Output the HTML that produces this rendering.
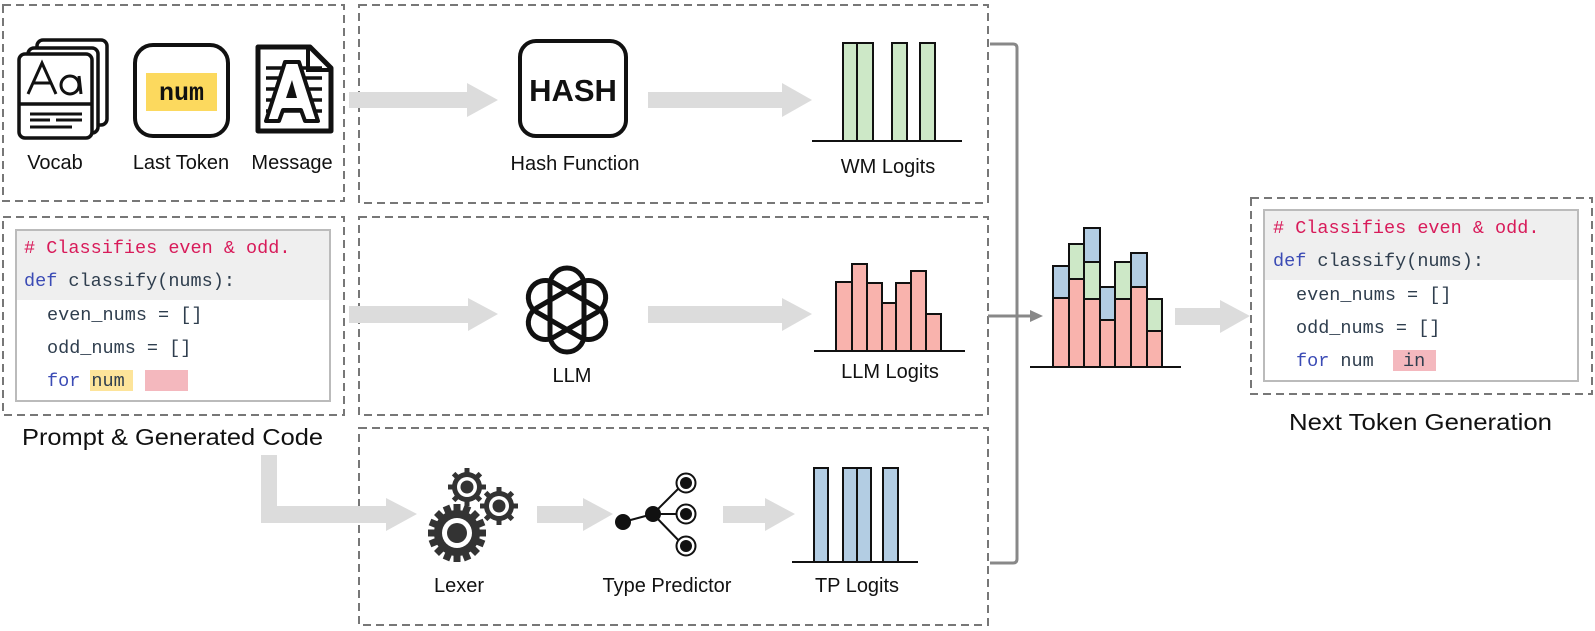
<!DOCTYPE html>
<html><head><meta charset="utf-8"><style>
html,body{margin:0;padding:0;background:#fff;}
svg{display:block;}
text{font-family:"Liberation Sans",sans-serif;fill:#111;}
.m{font-family:"Liberation Mono",monospace;font-size:18.5px;}
</style></head><body>
<svg width="1595" height="631" viewBox="0 0 1595 631" xmlns="http://www.w3.org/2000/svg">
<g fill="none" stroke="#777" stroke-width="2" stroke-dasharray="8,5">
  <rect x="3" y="5" width="341" height="196"/>
  <rect x="359" y="5" width="629" height="198"/>
  <rect x="3" y="217" width="341" height="198"/>
  <rect x="359" y="217" width="629" height="198"/>
  <rect x="359" y="428" width="629" height="197"/>
  <rect x="1251" y="198" width="341" height="196"/>
</g>

<g fill="#dcdcdc">
  <path d="M349 92 H467 V83 L498 100 L467 117 V108 H349 Z"/>
  <path d="M648 92 H782 V83 L812 100 L782 117 V108 H648 Z"/>
  <path d="M349 306 H468 V298 L498 314 L468 331 V323 H349 Z"/>
  <path d="M648 306 H782 V298 L812 314 L782 331 V323 H648 Z"/>
  <path d="M261 455 H277 V506 H386 V498 L417 514 L386 531 V523 H261 Z"/>
  <path d="M537 506 H583 V498 L613 514 L583 531 V523 H537 Z"/>
  <path d="M723 506 H765 V498 L795 514 L765 531 V523 H723 Z"/>
  <path d="M1175 308 H1220 V300 L1250 316 L1220 333 V325 H1175 Z"/>
</g>

<path d="M990 44 H1013 Q1017 44 1017 48 V559 Q1017 563 1013 563 H990" fill="none" stroke="#888" stroke-width="3"/>
<line x1="988" y1="316" x2="1032" y2="316" stroke="#888" stroke-width="3"/>
<path d="M1030 310 L1043 316 L1030 322 Z" fill="#888"/>

<g fill="#fff" stroke="#111" stroke-width="3.5">
  <rect x="37" y="40" width="70" height="85" rx="6"/>
  <rect x="28" y="48" width="70" height="85" rx="6"/>
  <rect x="19" y="54" width="73" height="84" rx="6"/>
  <line x1="19" y1="104" x2="92" y2="104"/>
  <path d="M28 94 L42 63 L56 94 M33 83 H51" fill="none" stroke-width="3"/>
  <ellipse cx="70" cy="85" rx="9" ry="9" fill="none" stroke-width="3"/>
  <line x1="79" y1="76" x2="81" y2="94" stroke-width="3"/>
  <line x1="30" y1="114" x2="82" y2="114" stroke-width="3"/>
  <line x1="30" y1="120" x2="50" y2="120" stroke-width="3"/>
  <line x1="56" y1="120" x2="82" y2="120" stroke-width="3"/>
  <line x1="30" y1="127" x2="72" y2="127" stroke-width="3"/>
</g>
<rect x="135" y="45" width="93" height="91" rx="18" fill="#fff" stroke="#111" stroke-width="4"/>
<rect x="146" y="73" width="71" height="38" fill="#fcd95e"/>
<text x="181.5" y="100" text-anchor="middle" style="font-family:'Liberation Mono',monospace;font-size:25px;font-weight:bold;">num</text>
<path d="M258 47 H310 L331 68 V131 H258 Z" fill="#fff" stroke="#111" stroke-width="5" stroke-linejoin="round"/>
<path d="M308 47 V70 H331" fill="none" stroke="#111" stroke-width="4"/>
<g stroke="#111" stroke-width="3.5">
  <line x1="266" y1="68" x2="322" y2="68"/><line x1="266" y1="78" x2="322" y2="78"/>
  <line x1="266" y1="89" x2="322" y2="89"/><line x1="266" y1="100" x2="322" y2="100"/>
  <line x1="266" y1="111" x2="322" y2="111"/>
</g>
<path d="M285 62 H299 L318 121 H305 L301 110 H283 L279 121 H266 Z" fill="#fff" stroke="#111" stroke-width="4" stroke-linejoin="round"/>
<path d="M292 80 L297 98 H286 Z" fill="#111"/>
<text x="55" y="169" text-anchor="middle" font-size="20">Vocab</text>
<text x="181" y="169" text-anchor="middle" font-size="20">Last Token</text>
<text x="292" y="169" text-anchor="middle" font-size="20">Message</text>

<rect x="520" y="41" width="106" height="95" rx="16" fill="#fff" stroke="#111" stroke-width="4"/>
<text x="573" y="101" text-anchor="middle" font-size="31" font-weight="bold">HASH</text>
<text x="575" y="170" text-anchor="middle" font-size="20">Hash Function</text>

<g fill="#cde8c7" stroke="#111" stroke-width="2">
  <rect x="843" y="43" width="14" height="98"/><rect x="857" y="43" width="16" height="98"/>
  <rect x="892" y="43" width="15" height="98"/><rect x="920" y="43" width="15" height="98"/>
</g>
<line x1="812" y1="141" x2="962" y2="141" stroke="#111" stroke-width="2"/>
<text x="888" y="173" text-anchor="middle" font-size="20">WM Logits</text>

<g transform="translate(567,310)" fill="none" stroke="#111" stroke-width="5">
  <rect x="-17" y="-42" width="34" height="84" rx="17"/>
  <rect x="-17" y="-42" width="34" height="84" rx="17" transform="rotate(60)"/>
  <rect x="-17" y="-42" width="34" height="84" rx="17" transform="rotate(120)"/>
</g>
<text x="572" y="382" text-anchor="middle" font-size="20">LLM</text>

<g fill="#f9b3ad" stroke="#111" stroke-width="2">
  <rect x="836" y="282" width="16" height="69"/><rect x="852" y="264" width="15" height="87"/>
  <rect x="867" y="283" width="15" height="68"/><rect x="882" y="303" width="14" height="48"/>
  <rect x="896" y="283" width="15" height="68"/><rect x="911" y="271" width="15" height="80"/>
  <rect x="926" y="314" width="15" height="37"/>
</g>
<line x1="814" y1="351" x2="965" y2="351" stroke="#111" stroke-width="2"/>
<text x="890" y="378" text-anchor="middle" font-size="20">LLM Logits</text>

<g stroke="#111" stroke-width="2">
  <rect x="1053" y="266" width="16" height="32" fill="#b3cde3"/><rect x="1053" y="298" width="16" height="69" fill="#f9b3ad"/>
  <rect x="1069" y="244" width="15" height="35" fill="#cde8c7"/><rect x="1069" y="279" width="15" height="88" fill="#f9b3ad"/>
  <rect x="1084" y="228" width="16" height="34" fill="#b3cde3"/><rect x="1084" y="262" width="16" height="37" fill="#cde8c7"/><rect x="1084" y="299" width="16" height="68" fill="#f9b3ad"/>
  <rect x="1100" y="287" width="15" height="33" fill="#b3cde3"/><rect x="1100" y="320" width="15" height="47" fill="#f9b3ad"/>
  <rect x="1115" y="262" width="16" height="37" fill="#cde8c7"/><rect x="1115" y="299" width="16" height="68" fill="#f9b3ad"/>
  <rect x="1131" y="253" width="16" height="34" fill="#b3cde3"/><rect x="1131" y="287" width="16" height="80" fill="#f9b3ad"/>
  <rect x="1147" y="299" width="15" height="32" fill="#cde8c7"/><rect x="1147" y="331" width="15" height="36" fill="#f9b3ad"/>
</g>
<line x1="1030" y1="367" x2="1181" y2="367" stroke="#111" stroke-width="2"/>

<g fill="#333">
  <g transform="translate(457,533)">
    <circle r="23"/>
    <g stroke="#333" stroke-width="7">
      <line x1="0" y1="-29" x2="0" y2="29"/><line x1="-29" y1="0" x2="29" y2="0"/>
      <line x1="-20.5" y1="-20.5" x2="20.5" y2="20.5"/><line x1="-20.5" y1="20.5" x2="20.5" y2="-20.5"/>
      <line x1="-11" y1="-27" x2="11" y2="27"/><line x1="-27" y1="-11" x2="27" y2="11"/>
      <line x1="11" y1="-27" x2="-11" y2="27"/><line x1="-27" y1="11" x2="27" y2="-11"/>
    </g>
    <circle r="15" fill="#fff"/><circle r="10"/>
  </g>
  <g transform="translate(467,487)">
    <circle r="15"/>
    <g stroke="#333" stroke-width="5">
      <line x1="0" y1="-19" x2="0" y2="19"/><line x1="-19" y1="0" x2="19" y2="0"/>
      <line x1="-13.4" y1="-13.4" x2="13.4" y2="13.4"/><line x1="-13.4" y1="13.4" x2="13.4" y2="-13.4"/>
    </g>
    <circle r="10" fill="#fff"/><circle r="6.5"/>
  </g>
  <g transform="translate(499,506)">
    <circle r="15"/>
    <g stroke="#333" stroke-width="5">
      <line x1="0" y1="-19" x2="0" y2="19"/><line x1="-19" y1="0" x2="19" y2="0"/>
      <line x1="-13.4" y1="-13.4" x2="13.4" y2="13.4"/><line x1="-13.4" y1="13.4" x2="13.4" y2="-13.4"/>
    </g>
    <circle r="10" fill="#fff"/><circle r="6.5"/>
  </g>
</g>
<text x="459" y="592" text-anchor="middle" font-size="20">Lexer</text>

<g stroke="#111" stroke-width="2" fill="#111">
  <line x1="623" y1="522" x2="653" y2="514"/>
  <line x1="653" y1="514" x2="684" y2="483"/><line x1="653" y1="514" x2="684" y2="514"/><line x1="653" y1="514" x2="684" y2="546"/>
  <circle cx="623" cy="522" r="8" stroke="none"/><circle cx="653" cy="514" r="8" stroke="none"/>
  <circle cx="686" cy="483" r="9.5" fill="#fff"/><circle cx="686" cy="483" r="6" stroke="none"/>
  <circle cx="686" cy="514" r="9.5" fill="#fff"/><circle cx="686" cy="514" r="6" stroke="none"/>
  <circle cx="686" cy="546" r="9.5" fill="#fff"/><circle cx="686" cy="546" r="6" stroke="none"/>
</g>
<text x="667" y="592" text-anchor="middle" font-size="20">Type Predictor</text>

<g fill="#b3cde3" stroke="#111" stroke-width="2">
  <rect x="814" y="468" width="14" height="94"/><rect x="843" y="468" width="14" height="94"/>
  <rect x="857" y="468" width="14" height="94"/><rect x="883" y="468" width="15" height="94"/>
</g>
<line x1="792" y1="562" x2="918" y2="562" stroke="#111" stroke-width="2"/>
<text x="857" y="592" text-anchor="middle" font-size="20">TP Logits</text>

<rect x="16" y="230" width="314" height="171" fill="#fff" stroke="#bbb" stroke-width="2"/>
<rect x="17" y="231" width="312" height="69" fill="#efefef"/>
<rect x="90" y="370" width="43" height="21" fill="#fde49a"/>
<rect x="145" y="370" width="43" height="21" fill="#f4b8be"/>
<text class="m" x="24" y="253" style="fill:#d81b5a"># Classifies even &amp; odd.</text>
<text class="m" x="24" y="286" style="fill:#2f3e4e"><tspan style="fill:#3b4bb5">def</tspan> classify(nums):</text>
<text class="m" x="47" y="320" style="fill:#2f3e4e">even_nums = []</text>
<text class="m" x="47" y="353" style="fill:#2f3e4e">odd_nums = []</text>
<text class="m" x="47" y="386" style="fill:#2f3e4e"><tspan style="fill:#3b4bb5">for</tspan> num</text>
<text x="22" y="445" font-size="23.5" textLength="301" lengthAdjust="spacingAndGlyphs">Prompt &amp; Generated Code</text>

<rect x="1264" y="210" width="314" height="171" fill="#fff" stroke="#bbb" stroke-width="2"/>
<rect x="1265" y="211" width="312" height="69" fill="#efefef"/>
<rect x="1393" y="350" width="43" height="21" fill="#f4b8be"/>
<text class="m" x="1273" y="233" style="fill:#d81b5a"># Classifies even &amp; odd.</text>
<text class="m" x="1273" y="266" style="fill:#2f3e4e"><tspan style="fill:#3b4bb5">def</tspan> classify(nums):</text>
<text class="m" x="1296" y="300" style="fill:#2f3e4e">even_nums = []</text>
<text class="m" x="1296" y="333" style="fill:#2f3e4e">odd_nums = []</text>
<text class="m" x="1296" y="366" style="fill:#2f3e4e"><tspan style="fill:#3b4bb5">for</tspan> num</text>
<text class="m" x="1403" y="366" style="fill:#2f3e4e">in</text>
<text x="1289" y="430" font-size="23.5" textLength="263" lengthAdjust="spacingAndGlyphs">Next Token Generation</text>
</svg>
</body></html>
